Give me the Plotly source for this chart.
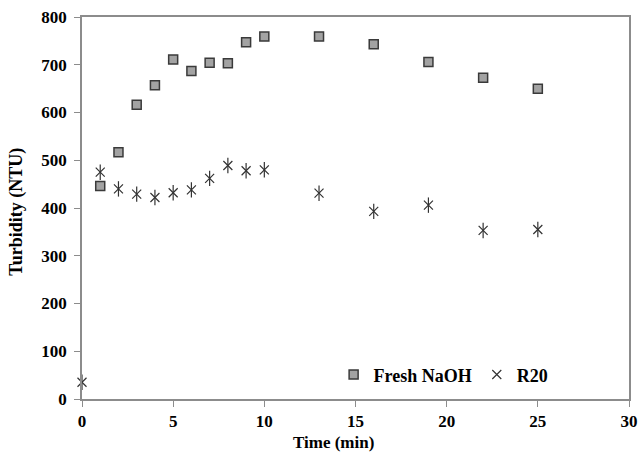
import plotly.graph_objects as go

time_fresh = [1, 2, 3, 4, 5, 6, 7, 8, 9, 10, 13, 16, 19, 22, 25]
fresh_naoh = [446, 517, 616, 657, 711, 687, 704, 703, 747, 759, 759, 743, 706, 673, 650]

time_r20 = [0, 1, 2, 3, 4, 5, 6, 7, 8, 9, 10, 13, 16, 19, 22, 25]
r20 = [35, 475, 440, 429, 422, 432, 438, 462, 489, 478, 480, 431, 393, 406, 353, 355]

x_ticks = [0, 5, 10, 15, 20, 25, 30]
y_ticks = [0, 100, 200, 300, 400, 500, 600, 700, 800]

FONT = "Liberation Serif"
tick_font = dict(family=FONT, size=17, color="#000000", weight="bold")

fig = go.Figure()
fig.add_trace(go.Scatter(
    x=time_fresh, y=fresh_naoh, mode="markers", name="Fresh NaOH",
    cliponaxis=False,
    marker=dict(symbol="square", size=9, color="#a3a3a3",
                line=dict(color="#3a3a3a", width=1.5)),
))
fig.add_trace(go.Scatter(
    x=time_r20, y=r20, mode="markers", name="R20",
    legendgroup="r20", cliponaxis=False,
    marker=dict(symbol="x-thin-open", size=9, color="#333333",
                line=dict(color="#333333", width=1.2)),
))
fig.add_trace(go.Scatter(
    x=time_r20, y=r20, mode="markers", name="R20", showlegend=False,
    legendgroup="r20", cliponaxis=False,
    marker=dict(symbol="line-ns-open", size=11, color="#333333",
                line=dict(color="#333333", width=1.2)),
))

axis_common = dict(
    showline=True, linecolor="#8c8c8c", linewidth=1.5, mirror=True,
    ticks="outside", ticklen=6, tickcolor="#8c8c8c", tickwidth=1,
    showgrid=False, zeroline=False, automargin=False,
    tickfont=tick_font,
)

fig.update_layout(
    width=639, height=452,
    margin=dict(l=82, r=10, t=17, b=53),
    paper_bgcolor="white", plot_bgcolor="white",
    showlegend=True,
    legend=dict(orientation="h", x=0.46, y=0.015, xanchor="left", yanchor="bottom",
                bgcolor="rgba(0,0,0,0)",
                font=dict(family=FONT, size=18, color="#000000", weight="bold"),
                itemwidth=30),
    xaxis=dict(range=[0, 30], tickvals=x_ticks, **axis_common),
    yaxis=dict(range=[0, 800], tickvals=y_ticks, ticklabelstandoff=4, **axis_common),
    annotations=[
        dict(text="<b>Time (min)</b>", xref="paper", yref="paper",
             x=0.459, y=-0.113, xanchor="center", yanchor="middle", showarrow=False,
             font=dict(family=FONT, size=17, color="#000000")),
        dict(text="<b>Turbidity (NTU)</b>", xref="paper", yref="paper",
             x=-0.119, y=0.49, xanchor="center", yanchor="middle", showarrow=False,
             textangle=-90,
             font=dict(family=FONT, size=18, color="#000000")),
    ],
)

fig.write_html("out.html")
